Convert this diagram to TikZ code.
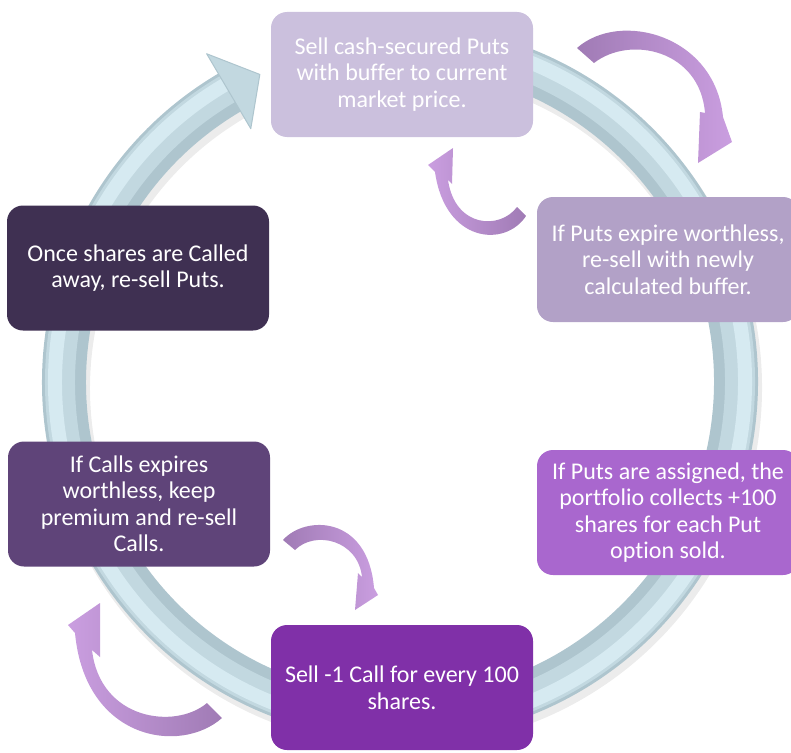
\documentclass[tikz,border=0pt]{standalone}
\usepackage{fontspec}
\setmainfont{Carlito}[Ligatures=NoCommon]
\usetikzlibrary{calc}
\definecolor{ringdark}{HTML}{AEC5CE}
\definecolor{ringmid}{HTML}{C2D8E0}
\definecolor{ringlight}{HTML}{D6EAF1}
\definecolor{pmuted}{HTML}{A07BB5}
\definecolor{plilac}{HTML}{CA9EE0}
\definecolor{cA}{HTML}{CBC0DD}
\definecolor{cB}{HTML}{B2A1C7}
\definecolor{cC}{HTML}{A967CE}
\definecolor{cD}{HTML}{8030A8}
\definecolor{cE}{HTML}{5F4479}
\definecolor{cF}{HTML}{3F3052}
\begin{document}
\begin{tikzpicture}[x=1pt,y=-1pt,
  cyclebox/.style={rounded corners=16pt, text=white, align=center,
    minimum width=262pt, minimum height=125pt, inner sep=4pt,
    font=\fontsize{24}{26.5}\selectfont}]
\useasboundingbox (0,0) rectangle (791,752);
\clip (0,0) rectangle (791,752);
% ring
\coordinate (rc) at (400,382);
\draw[line width=46pt, black!30, opacity=.25] ([shift={(3,6)}]rc) ++(-85:336) arc[start angle=-85,end angle=239.7,radius=336];
\draw[line width=44pt, ringdark] (rc) ++(-85:336) arc[start angle=-85,end angle=239.8,radius=336];
\draw[line width=30pt, ringmid] (rc) ++(-85:340) arc[start angle=-85,end angle=239.8,radius=340];
\draw[line width=14pt, ringlight] (rc) ++(-85:345) arc[start angle=-85,end angle=239.8,radius=345];
\filldraw[fill=ringmid, draw=ringdark, line width=1pt, line join=round]
  ([shift={(-120.5:381)}]rc) -- ([shift={(-114.5:338)}]rc) -- ([shift={(-120.5:294)}]rc) -- cycle;
% purple curved arrows
\shade[left color=pmuted, right color=plilac]
  (577,48) .. controls (620,10) and (715,35) .. (723,117) -- (732,142) -- (698,163) -- (700,112) -- (705,113)
  .. controls (700,50) and (630,35) .. (594,63) -- cycle;
\shade[left color=plilac, right color=pmuted]
  (526,216) .. controls (505,248) and (445,243) .. (435,172) -- (428,165) -- (453,148) -- (452,184) -- (448,180)
  .. controls (455,228) and (500,230) .. (517,207) -- cycle;
\shade[left color=pmuted, right color=plilac]
  (283,540) .. controls (305,515) and (368,515) .. (374,588) -- (378,595) -- (355,610) -- (358,573) -- (362,577)
  .. controls (358,540) and (315,530) .. (295,550) -- cycle;
\shade[left color=plilac, right color=pmuted]
  (222,718) .. controls (180,755) and (85,740) .. (75,633) -- (68,625) -- (100,603) -- (100,657) -- (92,650)
  .. controls (100,720) and (175,730) .. (207,703) -- cycle;
% boxes
\node[cyclebox, fill=cA] (n1) at (402,74.5) {Sell cash-secured Puts\\with buffer to current\\market price.};
\node[cyclebox, fill=cB] (n2) at (668,259.5) {If Puts expire worthless,\\re-sell with newly\\calculated buffer.};
\node[cyclebox, fill=cC] (n3) at (668,512.5) {If Puts are assigned, the\\portfolio collects +100\\shares for each Put\\option sold.};
\node[cyclebox, fill=cD] (n4) at (402,687.5) {Sell -1 Call for every 100\\shares.};
\node[cyclebox, fill=cE] (n5) at (139,504) {If Calls expires\\worthless, keep\\premium and re-sell\\Calls.};
\node[cyclebox, fill=cF] (n6) at (138,268) {Once shares are Called\\away, re-sell Puts.};
\end{tikzpicture}
\end{document}
